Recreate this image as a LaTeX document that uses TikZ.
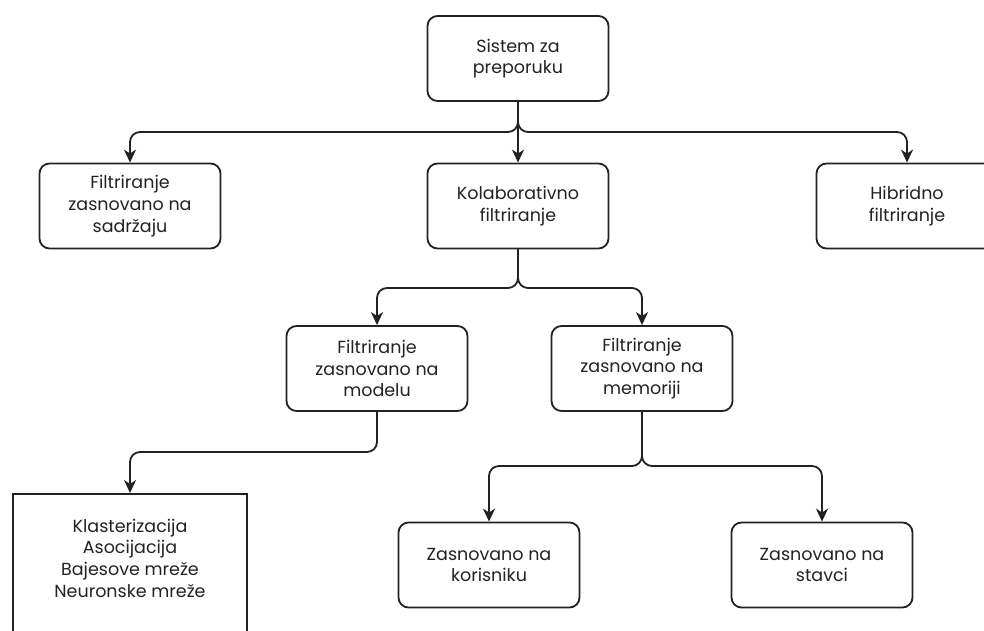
\documentclass[tikz,border=0pt]{standalone}
\usepackage{fontspec}
\setmainfont{Poppins}
\usetikzlibrary{arrows.meta}
\definecolor{ink}{HTML}{222222}
\tikzset{
  box/.style={draw=ink, line width=1.8pt, rounded corners=10pt, minimum width=181pt,
    minimum height=85pt, align=center, text=ink, font=\fontsize{17.5}{21.7}\selectfont},
  algbox/.style={draw=ink, line width=1.8pt, minimum width=234pt, minimum height=160pt},
  txt/.style={align=center, text=ink, font=\fontsize{17.5}{21.7}\selectfont},
  arr/.style={draw=ink, line width=1.8pt, rounded corners=10pt,
    -{Stealth[length=13pt,width=12pt,inset=4pt]}}
}
\begin{document}
\begin{tikzpicture}[x=1pt,y=1pt]
      \useasboundingbox (0,0) rectangle (984,631);
      \clip (0,0) rectangle (984,631);
      \draw
        (518,572.5) node[box] (sys){Sistem za\\preporuku}
        (130,425) node[box] (cbf){Filtriranje\\zasnovano na\\sadržaju}
        (518,425) node[box] (cf){Kolaborativno\\filtriranje}
        (907,425) node[box] (hyb){Hibridno\\filtriranje}
        (377,262.5) node[box] (mbf){Filtriranje\\zasnovano na\\modelu}
        (642,262.5) node[box] (mem){Filtriranje\\zasnovano na\\memoriji}
        (489,66) node[box] (usr){Zasnovano na\\korisniku}
        (822,66) node[box] (itm){Zasnovano na\\stavci};
      \node[algbox, anchor=north] (alg) at (130,138) {};
      \node[txt] (algtxt) at (130,73) {Klasterizacija\\Asocijacija\\Bajesove mreže\\Neuronske mreže};
      \coordinate (j1) at (518,499);
      \coordinate (j2) at (518,343);
      \coordinate (j3) at (377,179);
      \coordinate (j4) at (642,165);
      \begin{scope}
        \draw[arr] (sys.south) -- (j1) -| (cbf.north);
        \draw[arr] (sys.south) -- (cf.north);
        \draw[arr] (sys.south) -- (j1) -| (hyb.north);
        \draw[arr] (cf.south) -- (j2) -| (mbf.north);
        \draw[arr] (cf.south) -- (j2) -| (mem.north);
        \draw[arr] (mbf.south) -- (j3) -| (alg.north);
        \draw[arr] (mem.south) -- (j4) -| (usr.north);
        \draw[arr] (mem.south) -- (j4) -| (itm.north);
      \end{scope}
    \end{tikzpicture}
\end{document}
